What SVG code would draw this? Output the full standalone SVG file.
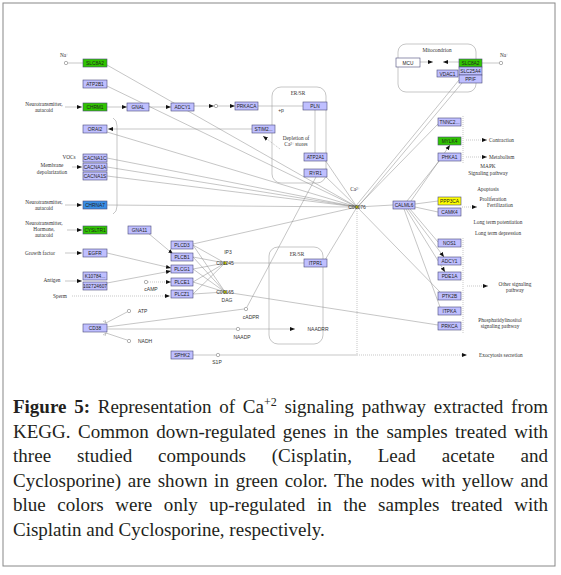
<svg xmlns="http://www.w3.org/2000/svg" width="561" height="575" viewBox="0 0 561 575">
<style>
.n{fill:#bfbfff;stroke:#4a4a7a;stroke-width:0.6}
.gr{fill:#2fc400}
.bl{fill:#3a8ee6}
.ye{fill:#ffff00}
.wh{fill:#ffffff}
.t{font-family:"Liberation Sans",Arial,sans-serif;font-size:4.8px;text-anchor:middle;fill:#222}
.l{font-family:"Liberation Serif","Times New Roman",serif;font-size:5.3px;fill:#333}
.c{text-anchor:middle}
.s{font-family:"Liberation Sans",Arial,sans-serif;font-size:5px;fill:#333}
.e{stroke:#8c8c8c;stroke-width:0.5;fill:none}
.d{stroke-dasharray:1,1}
.k{stroke:#333;stroke-width:0.5;fill:none}
.o{fill:#fff;stroke:#666;stroke-width:0.5}
.cp{fill:#c8c800;stroke:#666;stroke-width:0.4}
.cap{font-family:"Liberation Serif","Times New Roman",serif;font-size:19px;fill:#231f20}
</style>
<defs>
<marker id="a" viewBox="0 0 10 10" refX="10" refY="5" markerWidth="5" markerHeight="5" markerUnits="userSpaceOnUse" orient="auto"><path d="M0,1L10,5L0,9z" fill="#111"/></marker>
<marker id="b" viewBox="0 0 2 10" refX="1" refY="5" markerWidth="1" markerHeight="6" markerUnits="userSpaceOnUse" orient="auto"><path d="M1,0V10" stroke="#333" stroke-width="2"/></marker>
</defs>
<rect x="3" y="3" width="552" height="563" fill="none" stroke="#888" stroke-width="1"/>

<!-- compartments -->
<g id="compartments">
<rect x="272" y="87" width="54" height="96" rx="9" class="e" stroke="#777"/>
<rect x="269" y="247" width="54" height="97" rx="9" class="e" stroke="#777"/>
<rect x="398" y="44" width="78" height="48" rx="8" class="e" stroke="#777"/>
<path class="e" d="M113,118Q117,120 117,126L117,206Q117,212 113,214"/>
</g>

<g id="connectors">
<!-- to C00076 -->
<path class="e" d="M107,65L357,207M107,86L357,207M107,132L357,207M107,158L357,207M107,167L357,207M107,176L357,207M107,205L357,207M193,244L357,207M325,260L357,207M325,176L357,207M325,160L357,207"/>
<path class="e" d="M355,207L459,80M358,207L462,83M357,207L438,124M357,207L393,205M357,207L440,292"/>
<path class="e d" d="M357,209V355"/>
<path class="e" d="M220,355H357M193,355H216"/>
<path class="e d" d="M357,355H467" marker-end="url(#a)"/>
<!-- CALML6 -->
<path class="e" d="M415,204L438,201M415,207L438,212M410,209L438,242M404,209L440,307M407,201L440,160"/>
<path class="e" d="M408,209L444,257" marker-end="url(#a)"/>
<path class="e" d="M406,209L445,272" marker-end="url(#a)"/>
<path class="e" d="M411,201L450,145" marker-end="url(#a)"/>
<!-- PLC to IP3/DAG -->
<path class="e" d="M193,245L225,263M193,257L225,263M193,269L225,263M193,282L225,263M193,294L225,263M193,245L225,292M193,257L225,292M193,269L225,292M193,282L225,292M193,294L225,292"/>
<path class="e" d="M225,263H304M225,292L438,325"/>
<path class="e" d="M148,233L173,254" marker-end="url(#a)"/>
<path class="e" d="M107,253L171,268" marker-end="url(#a)"/>
<path class="e" d="M107,283L171,271" marker-end="url(#a)"/>
<path class="e d" d="M148,282H171" marker-end="url(#a)"/>
<path class="e d" d="M72,296H170" marker-end="url(#a)"/>
<!-- inputs -->
<path class="e" d="M65,107H82" marker-end="url(#a)"/>
<path class="e" d="M72,167H82" marker-end="url(#a)"/>
<path class="e" d="M65,205H82" marker-end="url(#a)"/>
<path class="e" d="M67,230H82" marker-end="url(#a)"/>
<path class="e" d="M65,253H82" marker-end="url(#a)"/>
<path class="e" d="M65,281H82" marker-end="url(#a)"/>
<path class="e" d="M68,63H83"/>
<path class="e" d="M107,107H127" marker-end="url(#a)"/>
<path class="e" d="M149,107H171" marker-end="url(#a)"/>
<path class="e" d="M194,106H214" marker-end="url(#a)"/>
<path class="e" d="M218,106H235" marker-end="url(#a)"/>
<path class="e" d="M258,106H303" marker-end="url(#b)"/>
<path class="e" d="M315,109V153" marker-end="url(#b)"/>
<path class="e" d="M252,129H108" marker-end="url(#a)"/>
<path class="e d" d="M280,149L263,136" marker-end="url(#a)"/>
<!-- CD38 -->
<path class="e" d="M107,327L244,309M107,329H236"/>
<path class="e" d="M240,329H295" marker-end="url(#a)"/>
<path class="e" d="M247,307L316,177"/>
<path class="e" d="M127,312L106,323M127,340L106,333"/>
<path class="e" d="M103,321L106,323L105,320M103,335L106,333L105,336"/>
<!-- mito -->
<path class="e" d="M499,63H482"/>
<path class="e" d="M420,62H433" marker-end="url(#a)"/>
<path class="e" d="M459,62H443" marker-end="url(#a)"/>
<!-- right outputs -->
<path class="e d" d="M463,116V163M463,238V333"/>
<path class="e d" d="M466,140H487" marker-end="url(#a)"/>
<path class="e d" d="M466,157H487" marker-end="url(#a)"/>
<path class="e d" d="M462,207H477" marker-end="url(#a)"/>
<path class="e d" d="M467,286H488" marker-end="url(#a)"/>
</g>

<!-- small compounds -->
<g id="compounds">
<circle class="o" cx="66" cy="63" r="1.7"/>
<circle class="o" cx="501" cy="63" r="1.7"/>
<circle class="o" cx="216" cy="106" r="1.7"/>
<circle class="o" cx="146" cy="282" r="1.7"/>
<circle class="o" cx="129" cy="311" r="1.7"/>
<circle class="o" cx="129" cy="341" r="1.7"/>
<circle class="o" cx="246" cy="309" r="1.7"/>
<circle class="o" cx="238" cy="329" r="1.7"/>
<circle class="o" cx="218" cy="355" r="1.7"/>
<g id="C00076"><circle class="cp" cx="357" cy="207" r="1.6"/><text class="s c" x="357" y="209" font-size="4.5">C00076</text></g>
<g id="C01245"><circle class="cp" cx="225" cy="263" r="1.6"/><text class="s c" x="225" y="265" font-size="4.5">C01245</text></g>
<g id="C00165"><circle class="cp" cx="225" cy="292" r="1.6"/><text class="s c" x="225" y="294" font-size="4.5">C00165</text></g>
</g>

<!-- nodes -->
<g id="SLC8A2"><rect class="n gr" x="83" y="59" width="24" height="8"/><text class="t" x="95" y="65">SLC8A2</text></g>
<g id="ATP2B1"><rect class="n" x="83" y="80" width="24" height="8"/><text class="t" x="95" y="86">ATP2B1</text></g>
<g id="CHRM1"><rect class="n gr" x="83" y="103" width="24" height="8"/><text class="t" x="95" y="109">CHRM1</text></g>
<g id="GNAL"><rect class="n" x="127" y="103" width="22" height="8"/><text class="t" x="138" y="109">GNAL</text></g>
<g id="ADCY1a"><rect class="n" x="171" y="103" width="23" height="8"/><text class="t" x="182.5" y="109">ADCY1</text></g>
<g id="ORAI2"><rect class="n" x="83" y="125" width="24" height="8"/><text class="t" x="95" y="131">ORAI2</text></g>
<g id="CACNA1C"><rect class="n" x="83" y="154" width="24" height="8"/><text class="t" x="95" y="160">CACNA1C</text></g>
<g id="CACNA1A"><rect class="n" x="83" y="163" width="24" height="8"/><text class="t" x="95" y="169">CACNA1A</text></g>
<g id="CACNA1S"><rect class="n" x="83" y="172" width="24" height="8"/><text class="t" x="95" y="178">CACNA1S</text></g>
<g id="CHRNA7"><rect class="n bl" x="83" y="201" width="24" height="8"/><text class="t" x="95" y="207">CHRNA7</text></g>
<g id="CYSLTR1"><rect class="n gr" x="83" y="226" width="24" height="8"/><text class="t" x="95" y="232">CYSLTR1</text></g>
<g id="GNA11"><rect class="n" x="128" y="226" width="23" height="8"/><text class="t" x="139.5" y="232">GNA11</text></g>
<g id="EGFR"><rect class="n" x="83" y="249" width="24" height="8"/><text class="t" x="95" y="255">EGFR</text></g>
<g id="PLCD3"><rect class="n" x="171" y="241" width="22" height="8"/><text class="t" x="182" y="247">PLCD3</text></g>
<g id="PLCB1"><rect class="n" x="171" y="253" width="22" height="8"/><text class="t" x="182" y="259">PLCB1</text></g>
<g id="PLCG1"><rect class="n" x="171" y="265" width="22" height="8"/><text class="t" x="182" y="271">PLCG1</text></g>
<g id="K10784"><rect class="n" x="83" y="272" width="24" height="8"/><text class="t" x="95" y="278">K10784...</text></g>
<g id="N102724607"><rect class="n" x="83" y="282" width="24" height="8"/><text class="t" x="95" y="288">102724607</text></g>
<g id="PLCE1"><rect class="n" x="171" y="278" width="22" height="8"/><text class="t" x="182" y="284">PLCE1</text></g>
<g id="PLCZ1"><rect class="n" x="171" y="290" width="22" height="8"/><text class="t" x="182" y="296">PLCZ1</text></g>
<g id="CD38"><rect class="n" x="83" y="324" width="24" height="8"/><text class="t" x="95" y="330">CD38</text></g>
<g id="SPHK2"><rect class="n" x="171" y="351" width="22" height="8"/><text class="t" x="182" y="357">SPHK2</text></g>
<g id="PRKACA"><rect class="n" x="235" y="102" width="23" height="8"/><text class="t" x="246.5" y="108">PRKACA</text></g>
<g id="PLN"><rect class="n" x="303" y="102" width="24" height="8"/><text class="t" x="315" y="108">PLN</text></g>
<g id="STIM2"><rect class="n" x="252" y="125" width="23" height="8"/><text class="t" x="263.5" y="131">STIM2...</text></g>
<g id="ATP2A1"><rect class="n" x="304" y="153" width="23" height="8"/><text class="t" x="315.5" y="159">ATP2A1</text></g>
<g id="RYR1"><rect class="n" x="304" y="169" width="23" height="8"/><text class="t" x="315.5" y="175">RYR1</text></g>
<g id="ITPR1"><rect class="n" x="304" y="259" width="23" height="8"/><text class="t" x="315.5" y="265">ITPR1</text></g>
<g id="MCU"><rect class="n wh" x="396" y="58" width="24" height="9"/><text class="t" x="408" y="64.5">MCU</text></g>
<g id="SLC8A2m"><rect class="n gr" x="459" y="59" width="23" height="8"/><text class="t" x="470.5" y="65">SLC8A2</text></g>
<g id="SLC25A4"><rect class="n" x="459" y="67" width="23" height="8"/><text class="t" x="470.5" y="73">SLC25A4</text></g>
<g id="PPIF"><rect class="n" x="459" y="75" width="23" height="8"/><text class="t" x="470.5" y="81">PPIF</text></g>
<g id="VDAC1"><rect class="n" x="437" y="70" width="21" height="7"/><text class="t" x="447.5" y="75.5">VDAC1</text></g>
<g id="TNNC2"><rect class="n" x="438" y="118" width="23" height="8"/><text class="t" x="449.5" y="124">TNNC2...</text></g>
<g id="MYLK4"><rect class="n gr" x="438" y="137" width="23" height="8"/><text class="t" x="449.5" y="143">MYLK4</text></g>
<g id="PHKA1"><rect class="n" x="438" y="153" width="23" height="8"/><text class="t" x="449.5" y="159">PHKA1</text></g>
<g id="CALML6"><rect class="n" x="393" y="201" width="22" height="8"/><text class="t" x="404" y="207">CALML6</text></g>
<g id="PPP3CA"><rect class="n ye" x="438" y="197" width="23" height="8"/><text class="t" x="449.5" y="203">PPP3CA</text></g>
<g id="CAMK4"><rect class="n" x="438" y="208" width="23" height="8"/><text class="t" x="449.5" y="214">CAMK4</text></g>
<g id="NOS1"><rect class="n" x="438" y="239" width="23" height="8"/><text class="t" x="449.5" y="245">NOS1</text></g>
<g id="ADCY1b"><rect class="n" x="438" y="257" width="23" height="8"/><text class="t" x="449.5" y="263">ADCY1</text></g>
<g id="PDE1A"><rect class="n" x="438" y="272" width="23" height="8"/><text class="t" x="449.5" y="278">PDE1A</text></g>
<g id="PTK2B"><rect class="n" x="438" y="292" width="23" height="8"/><text class="t" x="449.5" y="298">PTK2B</text></g>
<g id="ITPKA"><rect class="n" x="438" y="307" width="23" height="8"/><text class="t" x="449.5" y="313">ITPKA</text></g>
<g id="PRKCA"><rect class="n" x="438" y="322" width="23" height="8"/><text class="t" x="449.5" y="328">PRKCA</text></g>

<!-- labels -->
<g id="labels">
<text class="l c" x="64" y="57">Na<tspan font-size="3.5" dy="-1.5">+</tspan></text>
<text class="l c" x="44" y="106">Neurotransmitter,</text><text class="l c" x="44" y="112">autacoid</text>
<text class="l c" x="69" y="159">VOCs</text>
<text class="l c" x="52" y="167">Membrane</text><text class="l c" x="52" y="174">depolarization</text>
<text class="l c" x="44" y="204">Neurotransmitter,</text><text class="l c" x="44" y="210">autacoid</text>
<text class="l c" x="44" y="225">Neurotransmitter,</text><text class="l c" x="44" y="231">Hormone,</text><text class="l c" x="44" y="237">autacoid</text>
<text class="l c" x="40" y="255">Growth factor</text>
<text class="l c" x="52" y="282">Antigen</text>
<text class="l c" x="60" y="298">Sperm</text>
<text class="s c" x="151" y="291">cAMP</text>
<text class="s" x="138" y="313">ATP</text>
<text class="s" x="138" y="343">NADH</text>
<text class="l c" x="298" y="95">ER/SR</text>
<text class="l c" x="297" y="256">ER/SR</text>
<text class="s c" x="281" y="112">+p</text>
<text class="l c" x="296" y="140">Depletion of</text>
<text class="l c" x="296" y="146">Ca<tspan font-size="3.5" dy="-1.5">2+</tspan><tspan dy="1.5"> stores</tspan></text>
<text class="l c" x="355" y="191">Ca<tspan font-size="3.5" dy="-1.5">2+</tspan></text>
<text class="s c" x="228" y="254">IP3</text>
<text class="s c" x="227" y="302">DAG</text>
<text class="s c" x="251" y="319">cADPR</text>
<text class="s c" x="242" y="339">NAADP</text>
<text class="s c" x="318" y="331">NAADRR</text>
<text class="s c" x="217" y="364">S1P</text>
<text class="l c" x="437" y="52">Mitocondrion</text>
<text class="l c" x="504" y="57">Na<tspan font-size="3.5" dy="-1.5">+</tspan></text>
<text class="l" x="489" y="142">Contraction</text>
<text class="l" x="489" y="159">Metabolism</text>
<text class="l c" x="488" y="168">MAPK</text><text class="l c" x="488" y="175">Signaling pathway</text>
<text class="l c" x="488" y="191">Apoptosis</text>
<text class="l c" x="493" y="201">Proliferation</text>
<text class="l c" x="500" y="207">Fertilization</text>
<text class="l c" x="498" y="224">Long term potentiation</text>
<text class="l c" x="498" y="235">Long term depression</text>
<text class="l c" x="515" y="286">Other signaling</text><text class="l c" x="515" y="292">pathway</text>
<text class="l c" x="500" y="322">Phosphatidylinositol</text><text class="l c" x="500" y="328">signaling pathway</text>
<text class="l" x="479" y="357">Exocytosis secretion</text>
</g>

<!-- caption -->
<g id="caption">
<text class="cap" x="13" y="413" word-spacing="3" textLength="535" lengthAdjust="spacing"><tspan font-weight="bold">Figure 5:</tspan> Representation of Ca<tspan font-size="12" dy="-7">+2</tspan><tspan dy="7"> signaling pathway extracted from</tspan></text>
<text class="cap" x="13" y="437.5" word-spacing="2.7" textLength="535" lengthAdjust="spacing">KEGG. Common down-regulated genes in the samples treated with</text>
<text class="cap" x="13" y="462" word-spacing="21" textLength="535" lengthAdjust="spacing">three studied compounds (Cisplatin, Lead acetate and</text>
<text class="cap" x="13" y="486.5" word-spacing="1.9" textLength="535" lengthAdjust="spacing">Cyclosporine) are shown in green color. The nodes with yellow and</text>
<text class="cap" x="13" y="511" word-spacing="6.8" textLength="535" lengthAdjust="spacing">blue colors were only up-regulated in the samples treated with</text>
<text class="cap" x="13" y="535.5">Cisplatin and Cyclosporine, respectively.</text>
</g>
</svg>
